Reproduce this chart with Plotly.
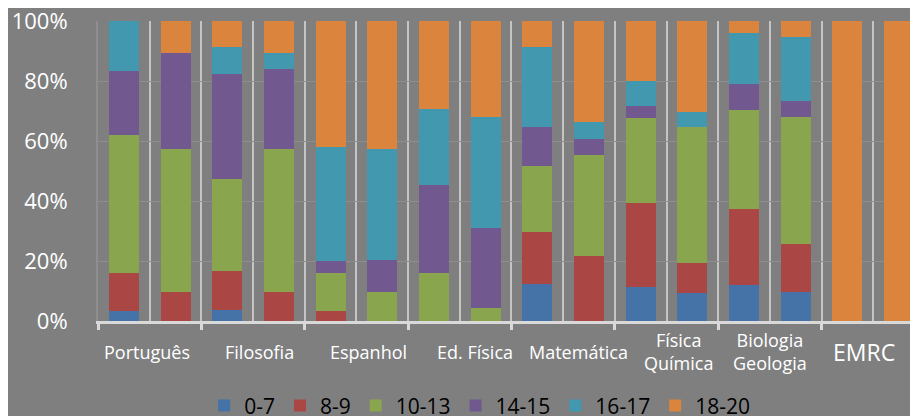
import plotly.graph_objects as go

# ---------------- data ----------------
subjects = ["Português", "Filosofia", "Espanhol", "Ed. Física", "Matemática",
            "Física<br>Química", "Biologia<br>Geologia", "EMRC"]
bands = ["0-7", "8-9", "10-13", "14-15", "16-17", "18-20"]

# percentage of each grade band, 16 bars (two per subject)
v_0_7 = [3.3, 0, 3.7, 0, 0, 0, 0, 0, 12.5, 0, 11.3, 9.2, 11.9, 9.8, 0, 0]
v_8_9 = [12.7, 9.8, 13.0, 9.8, 3.3, 0, 0, 0, 17.3, 21.6, 28.2, 10.0, 25.3, 16.0, 0, 0]
v_10_13 = [46.1, 47.7, 30.7, 47.7, 12.7, 9.8, 16.0, 4.4, 22.0, 33.6, 28.1, 45.4, 33.3, 42.3, 0, 0]
v_14_15 = [21.1, 31.9, 35.1, 26.6, 4.1, 10.6, 29.4, 26.6, 13.0, 5.5, 4.1, 0, 8.5, 5.3, 0, 0]
v_16_17 = [16.8, 0, 8.7, 5.3, 38.0, 37.1, 25.2, 37.1, 26.4, 5.7, 8.2, 5.1, 16.9, 21.4, 0, 0]
v_18_20 = [0, 10.6, 8.8, 10.6, 41.9, 42.5, 29.4, 31.9, 8.8, 33.6, 20.1, 30.3, 4.1, 5.2, 100, 100]

y_tick_vals = [0, 20, 40, 60, 80, 100]
y_tick_text = ["0%", "20%", "40%", "60%", "80%", "100%"]

# ---------------- style ----------------
colors = ["#4572A7", "#AA4643", "#89A54E", "#71588F", "#4198AF", "#DB843D"]
BG = "#7f7f7f"
FONT = "Open Sans"
label_xshift = [-3, 6, 12, 15, 15, 12, 0, -9]

series = [v_0_7, v_8_9, v_10_13, v_14_15, v_16_17, v_18_20]
n_bars = len(v_0_7)
xpos = list(range(n_bars))

fig = go.Figure()
for name, vals, col in zip(bands, series, colors):
    fig.add_trace(go.Bar(
        x=xpos, y=vals, name=name, width=0.58,
        marker=dict(color=col, line=dict(width=0)),
    ))

n_sub = len(subjects)
major_vals = [2 * i + 0.5 for i in range(n_sub)]
minor_vals = [2 * i - 0.5 for i in range(n_sub + 1)]

annotations = []
for i, s in enumerate(subjects):
    size = 23 if s == "EMRC" else 18
    annotations.append(dict(
        x=2 * i + 0.5, y=-0.103, xref="x", yref="paper",
        text=s, showarrow=False, xanchor="center", yanchor="middle",
        xshift=label_xshift[i],
        font=dict(family=FONT, size=size, color="white"),
    ))

# page has an 8px body margin: plot area placed so that it lands at
# page x 98..926, y 21..321
fig.update_layout(
    width=918, height=416,
    paper_bgcolor=BG, plot_bgcolor=BG,
    margin=dict(l=90, r=0, t=13, b=103, autoexpand=False),
    barmode="stack",
    bargap=0,
    font=dict(family=FONT, color="white"),
    showlegend=True,
    legend=dict(
        orientation="h", x=0.461, xanchor="center", y=-0.283, yanchor="middle",
        font=dict(family=FONT, size=21, color="black"),
        bgcolor="rgba(0,0,0,0)", traceorder="normal",
    ),
    xaxis=dict(
        range=[-0.5, 15.52], automargin=False,
        tickmode="array", tickvals=major_vals, showticklabels=False, ticks="",
        showgrid=True, gridcolor="#c4c4c4", gridwidth=2,
        showline=True, linecolor="#d9d9d9", linewidth=3,
        zeroline=False,
        minor=dict(tickmode="array", tickvals=minor_vals, ticks="outside",
                   ticklen=6, tickwidth=3, tickcolor="#d9d9d9",
                   showgrid=True, gridcolor="#c4c4c4", gridwidth=2),
    ),
    yaxis=dict(
        range=[0, 100], automargin=False,
        tickmode="array", tickvals=y_tick_vals, ticktext=y_tick_text,
        ticklabeloverflow="allow",
        showgrid=True, gridcolor="#8e8e8e", gridwidth=1,
        showline=True, linecolor="#8e8e8e", linewidth=2,
        zeroline=False, ticks="", ticklabelstandoff=24,
        tickfont=dict(family=FONT, size=22, color="white"),
    ),
    annotations=annotations,
)

fig.write_html("out.html")
